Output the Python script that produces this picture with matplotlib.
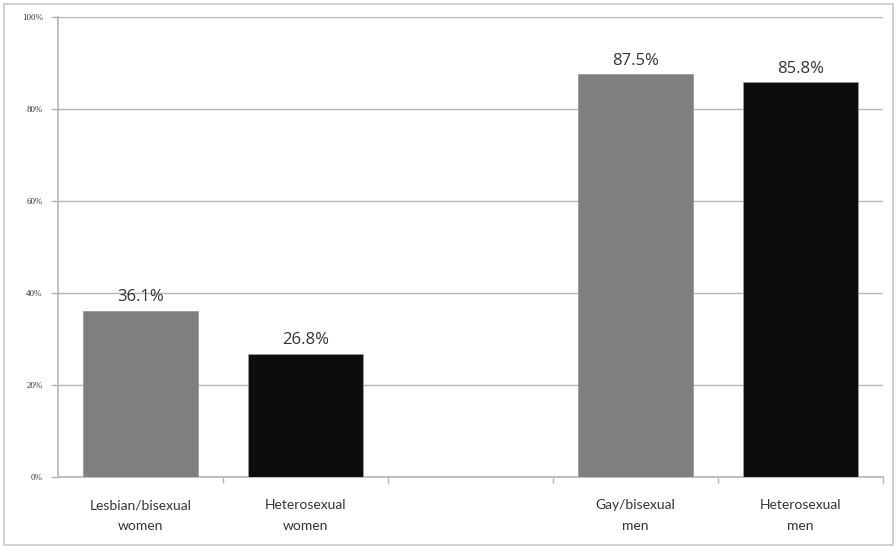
import matplotlib
matplotlib.use("Agg")
import matplotlib.pyplot as plt
from matplotlib.patches import Rectangle

categories = ["Lesbian/bisexual\nwomen", "Heterosexual\nwomen", "", "Gay/bisexual\nmen", "Heterosexual\nmen"]
values = [36.1, 26.8, None, 87.5, 85.8]
value_labels = ["36.1%", "26.8%", "", "87.5%", "85.8%"]
colors = ["#7f7f7f", "#0d0d0d", "none", "#7f7f7f", "#0d0d0d"]
yticks = [0, 20, 40, 60, 80, 100]
ytick_labels = ["0%", "20%", "40%", "60%", "80%", "100%"]

fig = plt.figure(figsize=(8.96, 5.46), dpi=100)
fig.patches.append(Rectangle((4/896, 1/546), 889/896, 541/546, transform=fig.transFigure,
                             fill=False, edgecolor="#c8c8c8", linewidth=1.2))
ax = fig.add_axes([58/896, 1 - 477/546, 825/896, 460/546])

xs = [i for i in range(len(categories))]
for x, v, c, lab in zip(xs, values, colors, value_labels):
    if v is None:
        continue
    ax.bar(x, v, width=0.70, color=c, edgecolor="#9a9a9a", linewidth=0.6, zorder=3)
    ax.annotate(lab, (x, v), xytext=(0, 4), textcoords="offset points",
                ha="center", va="bottom", fontsize=12, color="#333333",
                family=["Open Sans", "DejaVu Sans"])

ax.set_xlim(-0.5, len(categories) - 0.5)
ax.set_ylim(0, 100)
ax.set_yticks(yticks)
ax.set_yticklabels(ytick_labels, family=["Liberation Serif"], fontsize=6.5, color="#333333")
ax.yaxis.grid(True, color="#b4b4b4", linewidth=1.0, zorder=0)
ax.set_axisbelow(True)

# category boundary ticks
ax.set_xticks([i + 0.5 for i in range(len(categories))], minor=False)
ax.set_xticklabels([])
ax.tick_params(axis="x", which="major", direction="out", length=4, color="#b4b4b4", width=1)
ax.tick_params(axis="y", length=5, color="#b4b4b4", width=1, pad=6)
ax.set_xticks(xs, minor=True)
ax.set_xticklabels(categories, minor=True, family=["Lato", "DejaVu Sans"], fontsize=10,
                   color="#333333", linespacing=1.85)
ax.tick_params(axis="x", which="minor", length=0, pad=16)

for s in ["top", "right"]:
    ax.spines[s].set_visible(False)
for s in ["left", "bottom"]:
    ax.spines[s].set_color("#b4b4b4")
    ax.spines[s].set_linewidth(1.2)

fig.savefig("out.png", dpi=100)
